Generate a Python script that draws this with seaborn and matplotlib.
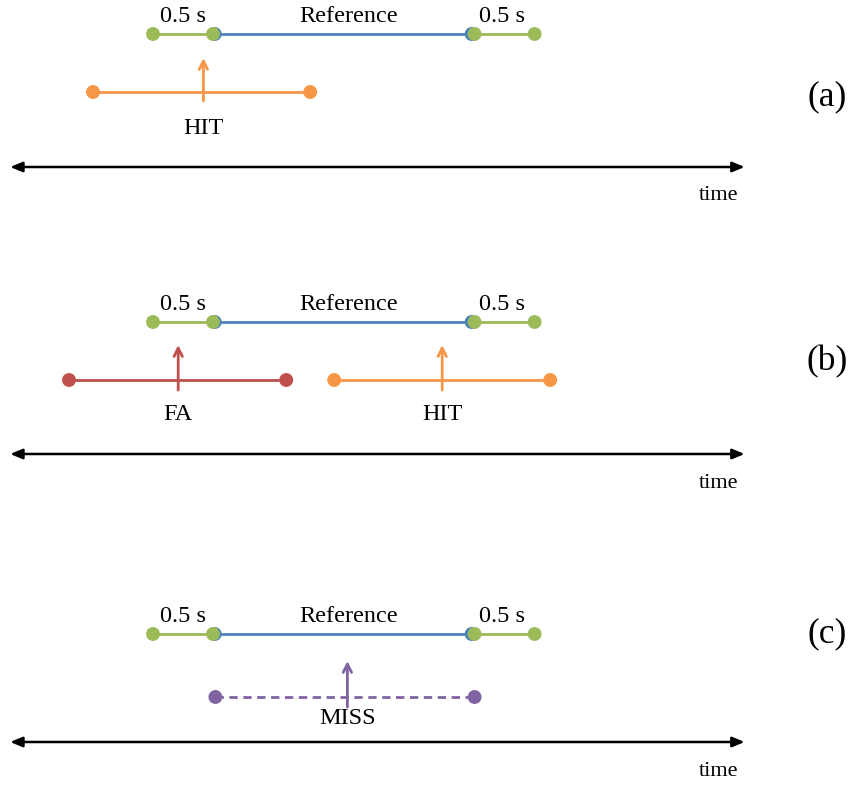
import matplotlib
matplotlib.use("Agg")
import matplotlib.pyplot as plt
import seaborn as sns
import pandas as pd

# ---- data (time in seconds, reference onset = 0) ----
panel_labels = ["(a)", "(b)", "(c)"]
guard = 0.5
ref_start = 0.0
ref_end = 2.17
guard_labels = ["0.5 s", "Reference", "0.5 s"]

resp_panel = [0, 1, 1, 2]
resp_label = ["HIT", "FA", "HIT", "MISS"]
resp_start = [-1.00, -1.20, 1.01, 0.02]
resp_end = [0.81, 0.61, 2.81, 2.18]
resp_press = [-0.08, -0.29, 1.91, 1.12]
resp_kind = ["hit", "fa", "hit", "miss"]

time_axis = [-1.69, 4.43]

# ---- styles / layout ----
colors = {"guard": "#9bbb59", "ref": "#4f81bd", "hit": "#f79646",
          "fa": "#c0504d", "miss": "#8064a2"}
ref_y = [34, 322, 634]
resp_y = [92, 380, 697]
tip_y = [58, 345, 661]
base_y = [101, 390, 707]
lab_y = [128, 414, 719]
axis_y = [167, 454, 742]
plab_y = [97, 362, 634]

sns.set_theme(style="white")
plt.rcParams["font.family"] = ["Liberation Serif", "DejaVu Serif"]
plt.rcParams["text.color"] = "black"

fig = plt.figure(figsize=(8.51, 7.85), dpi=100)
ax = fig.add_axes([0, 0, 1, 1])
px = 120.0
ax.set_xlim(-213 / px, (851 - 213) / px)
ax.set_ylim(785, 0)
ax.axis("off")

lw = 2.0
ms = 10
fs = 17.5

for p in range(3):
    y = ref_y[p]
    # reference (blue) with dots
    ax.plot([ref_start + 0.015, ref_end - 0.015], [y, y], color=colors["ref"], lw=lw, zorder=2)
    dots = pd.DataFrame({"t": [ref_start + 0.015, ref_end - 0.015], "y": [y, y]})
    sns.scatterplot(data=dots, x="t", y="y", ax=ax, color=colors["ref"], s=ms ** 2,
                    edgecolor="none", zorder=3, legend=False)
    # guards (green)
    for a, b in [(ref_start - guard, ref_start), (ref_end + 0.01, ref_end + 0.01 + guard)]:
        ax.plot([a, b], [y, y], color=colors["guard"], lw=lw, zorder=4)
        g = pd.DataFrame({"t": [a, b], "y": [y, y]})
        sns.scatterplot(data=g, x="t", y="y", ax=ax, color=colors["guard"], s=ms ** 2,
                        edgecolor="none", zorder=5, legend=False)
    # labels
    ax.text(ref_start - guard / 2, y - 17, guard_labels[0], ha="center", va="center", fontsize=fs)
    ax.text(1.13, y - 17, guard_labels[1], ha="center", va="center", fontsize=fs)
    ax.text(ref_end + 0.01 + guard / 2 - 0.02, y - 17, guard_labels[2], ha="center", va="center", fontsize=fs)
    # time axis
    ax.annotate("", xy=(time_axis[0], axis_y[p]), xytext=(time_axis[1], axis_y[p]),
                arrowprops=dict(arrowstyle="<|-|>,head_length=0.6,head_width=0.25",
                                color="black", lw=1.8, shrinkA=0, shrinkB=0))
    ax.text(4.21, axis_y[p] + 29, "time", ha="center", va="center", fontsize=16)
    ax.text(5.12, plab_y[p], panel_labels[p], ha="center", va="center", fontsize=25.5)

for i in range(len(resp_label)):
    p = resp_panel[i]
    c = colors[resp_kind[i]]
    ls = "--" if resp_kind[i] == "miss" else "-"
    ax.plot([resp_start[i], resp_end[i]], [resp_y[p], resp_y[p]], color=c, lw=lw,
            ls=ls, dashes=(3, 2) if ls == "--" else (None, None), zorder=2)
    d = pd.DataFrame({"t": [resp_start[i], resp_end[i]], "y": [resp_y[p], resp_y[p]]})
    sns.scatterplot(data=d, x="t", y="y", ax=ax, color=c, s=ms ** 2, edgecolor="none",
                    zorder=3, legend=False)
    ax.annotate("", xy=(resp_press[i], tip_y[p]), xytext=(resp_press[i], base_y[p]),
                arrowprops=dict(arrowstyle="->,head_length=0.5,head_width=0.25",
                                color=c, lw=lw, shrinkA=0, shrinkB=0), zorder=4)
    ax.text(resp_press[i], lab_y[p], resp_label[i], ha="center", va="center", fontsize=fs)

ax.set_xlabel("")
ax.set_ylabel("")
fig.savefig("out.png", dpi=100)
